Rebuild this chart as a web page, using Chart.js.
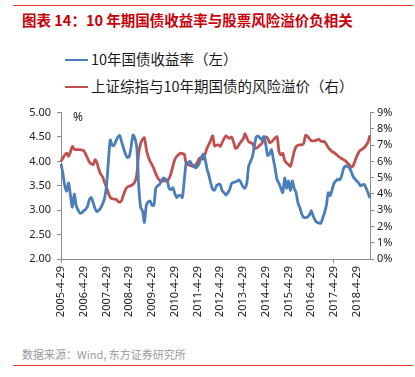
<!DOCTYPE html>
<html><head><meta charset="utf-8">
<script src="https://cdn.jsdelivr.net/npm/chart.js@4.4.0/dist/chart.umd.min.js"></script>
<style>
html,body{margin:0;padding:0;background:#fff;}
#wrap{position:relative;width:415px;height:377px;overflow:hidden;font-family:"Noto Sans CJK SC","Noto Sans",sans-serif;background:#fff;}
.rule{position:absolute;left:13px;width:400px;height:1px;background:#e0393e;}
#title{position:absolute;left:22px;top:9px;font-size:14.5px;font-weight:bold;color:#c8000a;white-space:nowrap;line-height:22px;}
.li{position:absolute;left:65px;white-space:nowrap;font-size:14.5px;color:#1a1a1a;line-height:20px;height:20px;}
.li .sw{display:inline-block;width:23px;height:2.5px;vertical-align:middle;margin-right:3px;position:relative;top:-1px;}
#pct{position:absolute;left:73px;top:108px;font-size:12px;color:#222;font-family:"Noto Sans",sans-serif;}
#src{position:absolute;left:22px;top:345px;font-size:11px;color:#9a9a9a;white-space:nowrap;line-height:18px;}
#cv{position:absolute;left:0;top:100px;}
</style></head>
<body>
<div id="wrap">
  <div class="rule" style="top:5px"></div>
  <div id="title">图表 14：10 年期国债收益率与股票风险溢价负相关</div>
  <div id="legend"></div>
  <canvas id="cv" width="415" height="230"></canvas>
  <div id="pct">%</div>
  <div id="src">数据来源：Wind, 东方证券研究所</div>
  <div class="rule" style="top:365px"></div>
</div>
<script>
// ---- data ----
const seriesNames = ["10年国债收益率（左）", "上证综指与10年期国债的风险溢价（右）"];
const seriesColors = ["#4a7ebb", "#c0504d"];
const tickLabels = ["2005-4-29","2006-4-29","2007-4-29","2008-4-29","2009-4-29","2010-4-29","2011-4-29",
  "2012-4-29","2013-4-29","2014-4-29","2015-4-29","2016-4-29","2017-4-29","2018-4-29"];
// monthly, from 2005-04 to 2018-11
const startYear = 2005, startMonth = 4;
const yield10y = [
  3.95,3.75,3.50,3.39,3.56,3.30,3.06,3.33,3.10,3.00,
  2.94,2.95,2.99,3.02,3.08,3.22,3.26,3.15,3.03,2.97,
  3.00,3.05,3.13,3.25,3.50,4.00,4.44,4.33,4.33,4.42,
  4.50,4.53,4.40,4.27,4.15,4.08,4.10,4.30,4.54,4.47,
  4.27,3.50,3.06,2.98,2.75,3.10,3.17,3.19,3.10,3.10,
  3.45,3.50,3.53,3.60,3.66,3.64,3.62,3.45,3.42,3.46,
  3.35,3.26,3.30,3.30,3.26,3.60,3.95,3.97,4.00,3.94,
  3.90,3.87,3.90,3.97,4.08,4.15,4.05,3.85,3.72,3.55,
  3.43,3.41,3.50,3.53,3.52,3.40,3.36,3.31,3.36,3.43,
  3.55,3.57,3.58,3.60,3.62,3.56,3.48,3.45,3.55,3.90,
  4.00,4.10,4.31,4.50,4.52,4.48,4.44,4.51,4.35,4.12,
  4.15,4.24,4.05,3.85,3.62,3.55,3.45,3.36,3.66,3.45,
  3.60,3.40,3.60,3.45,3.36,3.15,3.05,2.92,2.85,2.85,
  2.86,2.90,2.99,2.88,2.80,2.75,2.74,2.73,2.83,2.95,
  3.10,3.36,3.30,3.42,3.55,3.60,3.63,3.62,3.70,3.85,
  3.90,3.90,3.87,3.80,3.70,3.64,3.60,3.56,3.50,3.52,
  3.53,3.45,3.35,3.25
];
const riskPremium = [
  6.00,6.20,6.40,6.51,6.31,6.60,6.92,6.75,6.72,6.72,
  6.72,6.70,6.65,6.45,6.20,5.95,5.85,5.81,6.11,5.90,
  5.50,5.20,5.05,4.70,4.40,4.05,3.78,3.70,3.68,3.68,
  3.55,3.48,3.60,3.95,4.25,4.42,4.48,4.52,4.59,4.75,
  5.20,6.50,7.10,7.35,7.46,6.75,6.30,6.01,5.80,5.55,
  5.25,5.00,4.85,4.79,4.79,4.82,4.79,4.95,5.25,5.70,
  6.10,6.30,6.41,6.51,6.48,6.45,5.90,5.80,5.75,5.72,
  5.70,5.80,5.95,6.20,6.21,6.15,6.45,6.81,7.05,7.30,
  7.57,6.95,7.00,7.02,6.92,7.15,7.40,7.57,7.48,7.42,
  7.50,7.20,6.81,6.85,7.05,7.22,7.35,7.70,7.45,7.22,
  7.15,7.10,6.85,6.81,6.90,7.00,7.12,7.40,7.50,7.42,
  7.15,7.20,7.32,7.45,7.52,6.60,6.41,6.50,6.05,5.90,
  5.81,5.70,6.10,6.60,6.90,7.00,7.02,7.02,7.10,7.60,
  7.55,7.40,7.28,7.26,7.28,7.32,7.36,7.25,7.22,7.22,
  7.05,6.85,6.72,6.60,6.55,6.45,6.35,6.25,6.18,6.10,
  6.05,5.90,5.80,5.65,5.70,6.00,6.30,6.55,6.70,6.75,
  6.85,7.00,7.20,7.60
];

// ---- categories ----
const categories = yield10y.map((_, i) => {
  const t = startMonth - 1 + i;
  return (startYear + Math.floor(t / 12)) + "-" + ((t % 12) + 1);
});

// ---- legend (HTML) ----
const lg = document.getElementById('legend');
seriesNames.forEach((n, i) => {
  const d = document.createElement('div');
  d.className = 'li';
  d.style.top = (49 + i * 27) + 'px';
  d.innerHTML = '<span class="sw" style="background:' + seriesColors[i] + '"></span>' + n;
  lg.appendChild(d);
});

const axisColor = '#8c8c8c';
const tickFont = {family: '"Noto Sans", sans-serif', size: 11};
new Chart(document.getElementById('cv'), {
  type: 'line',
  data: {
    labels: categories,
    datasets: [
      {label: seriesNames[0], data: yield10y, yAxisID: 'yL', borderColor: seriesColors[0], backgroundColor: seriesColors[0],
       borderWidth: 2.8, pointRadius: 0, tension: 0.25, fill: false},
      {label: seriesNames[1], data: riskPremium, yAxisID: 'yR', borderColor: seriesColors[1], backgroundColor: seriesColors[1],
       borderWidth: 2.8, pointRadius: 0, tension: 0.25, fill: false}
    ]
  },
  options: {
    responsive: false, animation: false, devicePixelRatio: 1,
    layout: {padding: {top: 10.7, left: 0, right: 0, bottom: 0}},
    plugins: {legend: {display: false}, tooltip: {enabled: false}},
    scales: {
      x: {
        type: 'category', offset: false,
        grid: {drawOnChartArea: false, drawTicks: true, tickLength: 4,
               color: c => (c.index % 12 === 0 ? axisColor : 'rgba(0,0,0,0)')},
        border: {display: true, color: axisColor, width: 1},
        ticks: {autoSkip: false, maxRotation: 90, minRotation: 90, padding: 3, font: tickFont, color: '#222',
                callback: (v, i) => (i % 12 === 0 ? tickLabels[i / 12] : null)},
        afterFit: s => { s.height = 71; }
      },
      yL: {
        position: 'left', min: 2, max: 5,
        grid: {drawOnChartArea: false, tickLength: 4, color: axisColor},
        border: {display: true, color: axisColor, width: 1},
        ticks: {stepSize: 0.5, padding: 6, font: tickFont, color: '#222', callback: v => v.toFixed(2)},
        afterFit: s => { s.width = 61; }
      },
      yR: {
        position: 'right', min: 0, max: 9,
        grid: {drawOnChartArea: false, tickLength: 4, color: axisColor},
        border: {display: true, color: axisColor, width: 1},
        ticks: {stepSize: 1, padding: 3, font: tickFont, color: '#222', callback: v => v + '%'},
        afterFit: s => { s.width = 45; }
      }
    }
  }
});
</script>
</body></html>
